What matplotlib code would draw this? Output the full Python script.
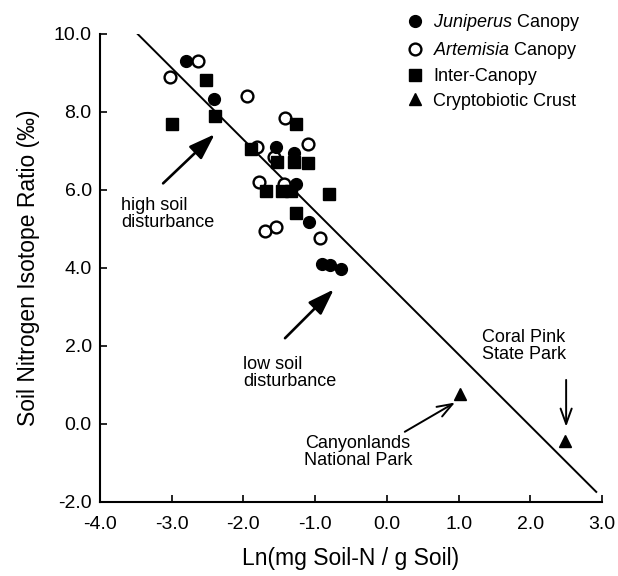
import numpy as np
import matplotlib
matplotlib.use('Agg')
import matplotlib.pyplot as plt
from matplotlib.lines import Line2D

plt.rcParams['font.family'] = ['Liberation Sans', 'DejaVu Sans']
plt.rcParams['mathtext.fontset'] = 'custom'
plt.rcParams['mathtext.it'] = 'Liberation Sans:italic'
plt.rcParams['mathtext.rm'] = 'Liberation Sans'

# ---- data ----
juniperus_x = [-2.80, -2.41, -1.54, -1.29, -1.27, -1.09, -0.91, -0.79, -0.64]
juniperus_y = [9.32, 8.33, 7.11, 6.96, 6.15, 5.19, 4.10, 4.08, 3.97]

artemisia_x = [-3.02, -2.64, -1.95, -1.42, -1.10, -1.81, -1.58, -1.78, -1.44, -1.70, -1.54, -0.93]
artemisia_y = [8.89, 9.30, 8.41, 7.84, 7.19, 7.11, 6.84, 6.21, 6.15, 4.96, 5.04, 4.76]

inter_x = [-2.52, -2.99, -2.40, -1.26, -1.90, -1.53, -1.29, -1.10, -1.68, -1.46, -1.33, -0.80, -1.27]
inter_y = [8.82, 7.69, 7.90, 7.68, 7.05, 6.73, 6.73, 6.70, 5.98, 5.98, 5.98, 5.90, 5.42]

crust_x = [1.02, 2.49]
crust_y = [0.77, -0.43]

# regression line
slope = -1.836
intercept = 3.62
line_x = np.array([-3.53, 2.92])

xticks = [-4.0, -3.0, -2.0, -1.0, 0.0, 1.0, 2.0, 3.0]
yticks = [-2.0, 0.0, 2.0, 4.0, 6.0, 8.0, 10.0]

fig = plt.figure(figsize=(6.18, 5.76), dpi=100)
ax = fig.add_axes([0.1618, 0.1285, 0.8123, 0.8125])

ax.plot(line_x, slope * line_x + intercept, color='black', lw=1.4, zorder=1)

ms = 8.5
ax.plot(artemisia_x, artemisia_y, 'o', ms=ms, mfc='white', mec='black', mew=1.7, ls='none', zorder=2)
ax.plot(inter_x, inter_y, 's', ms=8, color='black', ls='none', zorder=3)
ax.plot(juniperus_x, juniperus_y, 'o', ms=ms, color='black', ls='none', zorder=4)
ax.plot(crust_x, crust_y, '^', ms=8.5, color='black', ls='none', zorder=4)

# arrows
filled = dict(arrowstyle='-|>,head_length=1.6,head_width=0.55', mutation_scale=10,
              color='black', lw=1.9, shrinkA=0, shrinkB=0)
opened = dict(arrowstyle='->,head_length=1.1,head_width=0.4', mutation_scale=10,
              color='black', lw=1.4, shrinkA=0, shrinkB=0)
ax.annotate('', xy=(-2.40, 7.43), xytext=(-3.12, 6.17), arrowprops=filled)
ax.annotate('', xy=(-0.74, 3.45), xytext=(-1.42, 2.20), arrowprops=filled)
ax.annotate('', xy=(0.95, 0.55), xytext=(0.25, -0.20), arrowprops=opened)
ax.annotate('', xy=(2.50, -0.07), xytext=(2.50, 1.13), arrowprops=opened)

tfs = 13
ax.text(-3.71, 5.82, 'high soil\ndisturbance', fontsize=tfs, ha='left', va='top', linespacing=1.0)
ax.text(-2.00, 1.74, 'low soil\ndisturbance', fontsize=tfs, ha='left', va='top', linespacing=1.0)
ax.text(-0.40, -0.28, 'Canyonlands\nNational Park', fontsize=tfs, ha='center', va='top', linespacing=1.0)
ax.text(1.91, 2.44, 'Coral Pink\nState Park', fontsize=tfs, ha='center', va='top', linespacing=1.0)

ax.set_xlim(-4, 3)
ax.set_ylim(-2, 10)
ax.set_xticks(xticks)
ax.set_yticks(yticks)
ax.set_xticklabels(['%.1f' % v for v in xticks])
ax.set_yticklabels(['%.1f' % v for v in yticks])
ax.tick_params(direction='in', length=5, width=1.2, labelsize=14)
ax.tick_params(axis='x', pad=10)
ax.tick_params(axis='y', pad=6)
for s in ['top', 'right']:
    ax.spines[s].set_visible(False)
for s in ['left', 'bottom']:
    ax.spines[s].set_linewidth(1.5)

ax.set_xlabel('Ln(mg Soil-N / g Soil)', fontsize=16.5, labelpad=10)
ax.set_ylabel('Soil Nitrogen Isotope Ratio (‰)', fontsize=16.5, labelpad=10)

handles = [
    Line2D([], [], marker='o', ls='none', color='black', ms=ms),
    Line2D([], [], marker='o', ls='none', mfc='white', mec='black', mew=1.7, ms=ms),
    Line2D([], [], marker='s', ls='none', color='black', ms=8),
    Line2D([], [], marker='^', ls='none', color='black', ms=8.5),
]
labels = [r'$\mathit{Juniperus}$ Canopy', r'$\mathit{Artemisia}$ Canopy',
          'Inter-Canopy', 'Cryptobiotic Crust']
fig.legend(handles, labels, loc='upper left', bbox_to_anchor=(406 / 618, (576 - 12) / 576),
           frameon=False, fontsize=13, handlelength=1.0, handletextpad=0.5,
           labelspacing=0.4, borderpad=0, borderaxespad=0)

fig.savefig('out.png', dpi=100)
